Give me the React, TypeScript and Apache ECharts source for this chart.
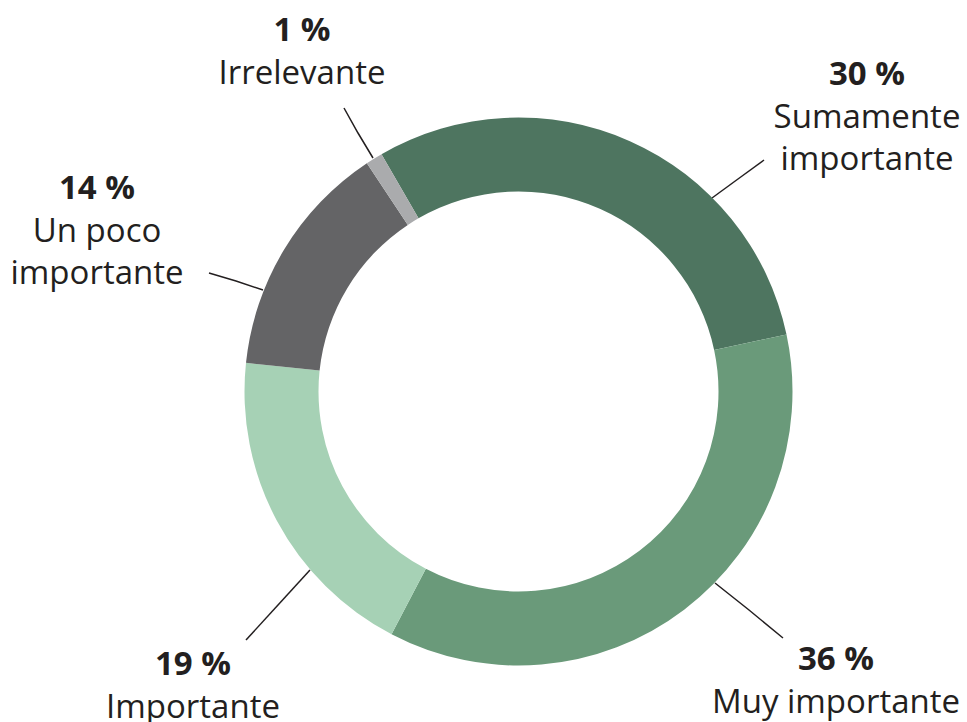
import React, { useEffect, useRef } from 'react';
import * as echarts from 'echarts';

const categories = ['Sumamente\nimportante', 'Muy importante', 'Importante', 'Un poco\nimportante', 'Irrelevante'];
const values = [30, 36, 19, 14, 1];
const colors = ['#4e7560', '#6a9a7a', '#a6d1b5', '#646466', '#aaabad'];

// label placement (center x, top y) and leader line ends, per slice
const labelPlacement = [
  { x: 867, y: 50, line: [[712, 198], [738, 179], [764, 160]] },
  { x: 836, y: 635, line: [[715, 583], [749, 610], [783, 638]] },
  { x: 193, y: 640, line: [[310, 570], [278, 605], [246, 640]] },
  { x: 97, y: 164, line: [[263, 290], [236, 281], [209, 273]] },
  { x: 302, y: 6, line: [[373, 158], [358, 133], [344, 108]] },
];

const FONT = '"Open Sans", sans-serif';

export default function App() {
  const ref = useRef<HTMLDivElement>(null);
  useEffect(() => {
    if (!ref.current) return;
    const chart = echarts.init(ref.current, undefined, { renderer: 'svg' });
    chart.setOption({
      animation: false,
      backgroundColor: '#ffffff',
      series: [
        {
          type: 'pie',
          center: [518.5, 391.5],
          radius: [200, 274],
          startAngle: 120,
          clockwise: true,
          avoidLabelOverlap: false,
          itemStyle: { borderWidth: 0 },
          emphasis: { disabled: true },
          data: categories.map((name, i) => ({
            name,
            value: values[i],
            itemStyle: { color: colors[i] },
          })),
          label: {
            show: true,
            position: 'outside',
            formatter: (p: any) => `{p|${p.value} %}\n{n|${p.name}}`,
            rich: {
              p: {
                fontFamily: FONT,
                fontSize: 33,
                fontWeight: 'bold',
                color: '#231f20',
                lineHeight: 44,
                align: 'center',
              },
              n: {
                fontFamily: FONT,
                fontSize: 33,
                fontWeight: 'normal',
                color: '#231f20',
                lineHeight: 42,
                align: 'center',
              },
            },
          },
          labelLine: {
            show: true,
            lineStyle: { color: '#231f20', width: 1.5 },
          },
          labelLayout: (params: any) => {
            const pl = labelPlacement[params.dataIndex];
            return {
              x: pl.x,
              y: pl.y,
              align: 'center',
              verticalAlign: 'top',
              labelLinePoints: pl.line,
            };
          },
        },
      ],
    });
    return () => chart.dispose();
  }, []);
  return (
    <div
      ref={ref}
      style={{ position: 'absolute', left: 0, top: 0, width: 967, height: 722 }}
    />
  );
}
